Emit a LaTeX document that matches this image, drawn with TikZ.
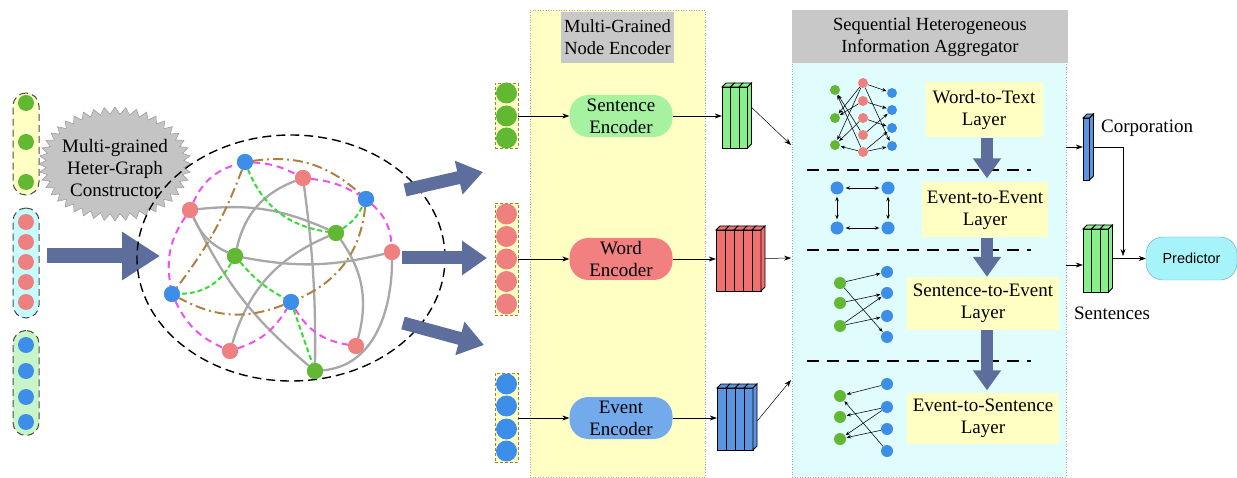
\documentclass[tikz,border=0pt]{standalone}
\usepackage{fontspec}
\setmainfont{Liberation Serif}
\setsansfont{Liberation Sans}
\usetikzlibrary{shapes.symbols,shapes.geometric,arrows.meta,calc}
\definecolor{gdot}{HTML}{62B832}
\definecolor{rdot}{HTML}{EE8080}
\definecolor{bdot}{HTML}{3D8EE8}
\definecolor{slate}{HTML}{5E6E9C}
\definecolor{mag}{HTML}{F050F0}
\definecolor{gdash}{HTML}{33DD33}
\definecolor{brn}{HTML}{B08040}
\definecolor{gedge}{HTML}{A8A8A8}
\definecolor{lyel}{HTML}{FFFFC4}
\definecolor{lcyan}{HTML}{C8FCFC}
\definecolor{lgrn}{HTML}{C8F5C8}
\definecolor{panelcyan}{HTML}{E0FCFC}
\definecolor{titlegray}{HTML}{C8C8C8}
\definecolor{starg}{HTML}{C4C4C4}
\definecolor{tgreen}{HTML}{88F088}
\definecolor{tred}{HTML}{F07070}
\definecolor{tblue}{HTML}{5B95E0}
\definecolor{encg}{HTML}{A6F2A0}
\definecolor{encr}{HTML}{F28080}
\definecolor{encb}{HTML}{72AAEB}
\definecolor{predc}{HTML}{A6F4FA}
\newcommand\tensorstack[7]{%
  % #1 name, #2 left x, #3 top y (px), #4 slices, #5 slice width, #6 height, #7 colour
  \foreach \i in {1,...,#4}{%
    \pgfmathsetmacro\xa{#2+(\i-1)*#5}%
    \pgfmathsetmacro\xb{#2+\i*#5}%
    \draw[fill=#7,line width=0.9pt] (\xa,-#3-4) rectangle (\xb,-#3-#6);
    \draw[fill=#7,line width=0.9pt] (\xa,-#3-4) -- (\xa+4,-#3) -- (\xb+4,-#3) -- (\xb,-#3-4) -- cycle;
  }%
  \pgfmathsetmacro\xe{#2+#4*#5}%
  \draw[fill=#7,line width=0.9pt] (\xe,-#3-4) -- (\xe+4,-#3) -- (\xe+4,-#3-#6+4) -- (\xe,-#3-#6) -- cycle;
  \node[minimum width={#4*#5+4}, minimum height=#6] (#1) at ({#2+(#4*#5+4)/2},{-#3-#6/2}) {};
}
\begin{document}
\begin{tikzpicture}[x=1pt,y=1pt,
  every node/.style={inner sep=0pt},
  dotg/.style={circle,fill=gdot,minimum size=#1}, dotg/.default=16pt,
  dotr/.style={circle,fill=rdot,minimum size=#1}, dotr/.default=16pt,
  dotb/.style={circle,fill=bdot,minimum size=#1}, dotb/.default=16pt,
  leftpill/.style={draw=gray!60!black, dash pattern=on 7pt off 4pt, line width=1pt, rounded corners=13pt, minimum width=26pt},
  incol/.style={draw=olive!60!gray, dash pattern=on 3pt off 2pt, line width=0.6pt, fill=lyel, minimum width=23pt},
  magedge/.style={mag, line width=2pt, dash pattern=on 7pt off 5pt},
  gredge/.style={gdash, line width=2pt, dash pattern=on 5pt off 3pt},
  bredge/.style={brn, line width=2pt, dash pattern=on 10pt off 4pt on 2pt off 4pt},
  gyedge/.style={gedge, line width=2.3pt},
  bigarrow/.style={slate, line width=13pt, -{Triangle[length=25pt,width=33pt]}},
  downarrow/.style={slate, line width=12pt, -{Triangle[length=20pt,width=27pt]}},
  conn/.style={-{Stealth[length=7pt,width=5pt]}, line width=0.7pt},
  tiny/.style={-{Stealth[length=4.5pt,width=3.5pt]}, line width=0.55pt, shorten >=0.5pt},
  tinyboth/.style={{Stealth[length=4.5pt,width=3.5pt]}-{Stealth[length=4.5pt,width=3.5pt]}, line width=0.7pt, shorten >=2pt, shorten <=2pt},
  txt/.style={font=\fontsize{19}{22}\selectfont, align=center},
  enc/.style={txt, rounded corners=19pt, minimum width=103pt, minimum height=42pt},
  layerbox/.style={font=\fontsize{19}{22}\selectfont, align=center, fill=lyel, minimum height=53pt},
  titlebox/.style={font=\fontsize{18.5}{22}\selectfont, align=center, fill=titlegray},
  sepline/.style={line width=1.6pt, dash pattern=on 12pt off 8pt}
]
\useasboundingbox (0,0) rectangle (1237,-478);

% ---------- left columns ----------
\node[leftpill, fill=lyel, minimum height=102pt] (lcg) at (26,-144) {};
\node[dotg] (lg1) at (26,-103) {};
\node[dotg] (lg2) at (26,-142) {};
\node[dotg] (lg3) at (26,-182) {};
\node[leftpill, fill=lcyan, minimum height=110pt] (lcr) at (26,-263) {};
\foreach \k/\yy in {1/222,2/242,3/262,4/282,5/302}{\node[dotr] (lr\k) at (26,-\yy) {};}
\node[leftpill, fill=lgrn, minimum height=105pt] (lcb) at (26,-383) {};
\foreach \k/\yy in {1/345,2/371,3/397,4/422}{\node[dotb] (lb\k) at (26,-\yy) {};}

\node[starburst, starburst points=44, starburst point height=7pt, random starburst=0,
      fill=starg, draw=gray!80, line width=0.5pt, minimum width=152pt, minimum height=114pt] (sb) at (115,-164) {};
\node[font=\fontsize{19}{22}\selectfont, align=center] (sbt) at (115,-168) {Multi-grained\\Heter-Graph\\Constructor};

\coordinate (ma1) at (47,-256);
\coordinate (ma2) at (160,-256);
\draw[slate, line width=15pt, -{Triangle[length=38pt,width=46pt]}] (ma1) -- (ma2);

% ---------- graph ----------
\node[ellipse, draw, line width=1.4pt, dash pattern=on 9pt off 5pt, minimum width=308pt, minimum height=246pt] (gr) at (291,-258) {};

\node[dotb] (B1) at (245,-162) {};
\node[dotr] (R1) at (303,-178) {};
\node[dotb] (B2) at (366,-199) {};
\node[dotr] (R2) at (190,-210) {};
\node[dotg] (G1) at (336,-233) {};
\node[dotg] (G2) at (235,-256) {};
\node[dotr] (R3) at (392,-252) {};
\node[dotb] (B3) at (172,-294) {};
\node[dotb] (B4) at (291,-302) {};
\node[dotr] (R4) at (230,-351) {};
\node[dotr] (R5) at (356,-346) {};
\node[dotg] (G3) at (315,-371) {};

% gray edges
\draw[gyedge] (R2) to[bend left=15] (G1);
\draw[gyedge] (R2) to[bend right=20] (G2);
\draw[gyedge] (R2) to[bend right=12] (G3);
\draw[gyedge] (R1) to[bend left=4] (G3);
\draw[gyedge] (G2) to[bend left=28] (R1);
\draw[gyedge] (G2) to[bend right=12] (R3);
\draw[gyedge] (G1) to[bend right=25] (R4);
\draw[gyedge] (G1) to[bend left=25] (R5);
\draw[gyedge] (R3) to[out=-90,in=5] (G3);
% magenta
\draw[magedge] (R2) to[bend left=25] (B1);
\draw[magedge] (B1) to[bend left=12] (R1);
\draw[magedge] (R1) to[bend left=12] (B2);
\draw[magedge] (B2) to[bend left=22] (R3);
\draw[magedge] (R2) to[bend right=22] (B3);
\draw[magedge] (B3) to[bend right=20] (R4);
\draw[magedge] (R4) to[bend right=20] (B4);
\draw[magedge] (B4) to[bend right=25] (R5);
% green dashed
\draw[gredge] (B1) to[bend right=30] (G1);
\draw[gredge] (G1) to[bend right=15] (B2);
\draw[gredge] (G2) to[bend left=30] (B3);
\draw[gredge] (G2) to[bend right=10] (B4);
\draw[gredge] (B4) -- (G3);
% brown dash-dot
\draw[bredge] (B1) to[bend left=25] (B2);
\draw[bredge] (B2) to[bend left=30] (B4);
\draw[bredge] (B4) to[bend left=25] (B3);
\draw[bredge] (B1) to[bend left=8] (B3);
% redraw graph nodes on top
\node[dotb] at (B1) {};
\node[dotr] at (R1) {};
\node[dotb] at (B2) {};
\node[dotr] at (R2) {};
\node[dotg] at (G1) {};
\node[dotg] at (G2) {};
\node[dotr] at (R3) {};
\node[dotb] at (B3) {};
\node[dotb] at (B4) {};
\node[dotr] at (R4) {};
\node[dotr] at (R5) {};
\node[dotg] at (G3) {};

% three arrows out of the graph
\coordinate (oa1) at (405,-190); \coordinate (ob1) at (483,-172);
\coordinate (oa2) at (402,-258); \coordinate (ob2) at (487,-258);
\coordinate (oa3) at (403,-323); \coordinate (ob3) at (484,-345);
\draw[bigarrow] (oa1) -- (ob1);
\draw[bigarrow] (oa2) -- (ob2);
\draw[bigarrow] (oa3) -- (ob3);

% ---------- node encoder panel ----------
\node[fill=lyel, draw=gray!70, dotted, line width=0.6pt, minimum width=175pt, minimum height=467pt] (encpanel) at (617.5,-243.5) {};
\node[titlebox, minimum width=113pt, minimum height=51pt] (enctitle) at (617.5,-37.5) {Multi-Grained\\Node Encoder};

\node[incol, minimum height=65pt] (mcg) at (506.5,-115.5) {};
\foreach \k/\yy in {1/93,2/116,3/138}{\node[dotg=21pt] (mg\k) at (506.5,-\yy) {};}
\node[incol, minimum height=112pt] (mcr) at (506.5,-259) {};
\foreach \k/\yy in {1/214,2/236.5,3/259,4/281.5,5/304}{\node[dotr=21pt] (mr\k) at (506.5,-\yy) {};}
\node[incol, minimum height=89pt] (mcb) at (506.5,-417.5) {};
\foreach \k/\yy in {1/384,2/406,3/429,4/451}{\node[dotb=21pt] (mb\k) at (506.5,-\yy) {};}

\node[enc, fill=encg] (senc) at (621,-116) {Sentence\\Encoder};
\node[enc, fill=encr] (wenc) at (621,-259) {Word\\Encoder};
\node[enc, fill=encb] (eenc) at (621,-418) {Event\\Encoder};

\draw[conn] (mcg.east |- senc.west) -- (senc.west);
\draw[conn] (mcr.east |- wenc.west) -- (wenc.west);
\draw[conn] (mcb.east |- eenc.west) -- (eenc.west);

\tensorstack{gt}{722}{83}{3}{8.5}{65}{tgreen}
\tensorstack{rt}{716}{226}{5}{9}{65}{tred}
\tensorstack{bt}{717}{384}{4}{9}{66}{tblue}

\draw[conn] (senc.east) -- (senc.east -| gt.west);
\draw[conn] (wenc.east) -- (wenc.east -| rt.west);
\draw[conn] (eenc.east) -- (eenc.east -| bt.west);

% ---------- aggregator panel ----------
\node[fill=panelcyan, draw=gray!70, dotted, line width=0.6pt, minimum width=274pt, minimum height=467pt] (aggpanel) at (929,-243.5) {};
\node[titlebox, minimum width=276pt, minimum height=53pt] (aggtitle) at (930,-37) {Sequential Heterogeneous\\Information Aggregator};

\coordinate (in1) at (791,-145);
\coordinate (in2) at (791,-258);
\coordinate (in3) at (791,-380);
\draw[conn, line width=0.5pt] (gt.east) ++(0,8) -- (in1);
\draw[conn, line width=0.5pt] (rt.east) -- (in2);
\draw[conn, line width=0.5pt] (bt.east) ++(0,-4) -- (in3);

% layer boxes
\node[layerbox, minimum width=117pt, minimum height=55pt] (w2t) at (984,-110) {Word-to-Text\\Layer};
\node[layerbox, minimum width=126pt, minimum height=55pt] (e2e) at (985,-210) {Event-to-Event\\Layer};
\node[layerbox, minimum width=152pt] (s2e) at (983,-303.5) {Sentence-to-Event\\Layer};
\node[layerbox, minimum width=152pt, minimum height=51pt] (e2s) at (983,-418) {Event-to-Sentence\\Layer};

% separators
\coordinate (d1a) at (807,-170); \coordinate (d1b) at (1031,-170);
\coordinate (d2a) at (807,-250); \coordinate (d2b) at (1031,-250);
\coordinate (d3a) at (807,-361); \coordinate (d3b) at (1031,-361);
\draw[sepline] (d1a) -- (d1b);
\draw[sepline] (d2a) -- (d2b);
\draw[sepline] (d3a) -- (d3b);

\draw[downarrow] (w2t.south -| 987,0) -- ($(e2e.north -| 987,0)+(0,4)$);
\draw[downarrow] (e2e.south -| 987,0) -- (s2e.north -| 987,0);
\draw[downarrow] (s2e.south -| 987,0) -- ($(e2s.north -| 987,0)+(0,2)$);

% icon 1: word-to-text
\foreach \k/\yy in {1/90,2/118,3/145}{\node[dotg=10pt] (ag\k) at (835,-\yy) {};}
\foreach \k/\yy in {1/83,2/101,3/118,4/135,5/152}{\node[dotr=10pt] (ar\k) at (863,-\yy) {};}
\foreach \k/\yy in {1/93,2/110,3/128,4/146}{\node[dotb=10pt] (ab\k) at (892,-\yy) {};}
\foreach \s/\t in {ar1/ab1,ar1/ab4,ar2/ab2,ar3/ab3,ar4/ab2,ar5/ab3,ar5/ab4,ar1/ag2,ar1/ag3,ar2/ag2,ar4/ag1,ar5/ag1,ar3/ag3,ar5/ag3}{\draw[tiny] (\s) -- (\t);}

% icon 2: event-to-event
\node[dotb=13pt] (ee1) at (837,-188) {};
\node[dotb=13pt] (ee2) at (888,-188) {};
\node[dotb=13pt] (ee3) at (837,-228) {};
\node[dotb=13pt] (ee4) at (888,-228) {};
\draw[tinyboth] (ee1) -- (ee2);
\draw[tinyboth] (ee3) -- (ee4);
\draw[tinyboth] (ee1) -- (ee3);
\draw[tinyboth] (ee2) -- (ee4);

% icon 3: sentence-to-event
\foreach \k/\yy in {1/283,2/303,3/326}{\node[dotg=12pt] (sg\k) at (840,-\yy) {};}
\foreach \k/\yy in {1/272,2/293,3/316,4/337}{\node[dotb=12pt] (sb\k) at (887,-\yy) {};}
\foreach \s/\t in {sg1/sb1,sg1/sb4,sg2/sb2,sg3/sb2,sg3/sb3}{\draw[tiny] (\s) -- (\t);}

% icon 4: event-to-sentence
\foreach \k/\yy in {1/396,2/417,3/439}{\node[dotg=12pt] (tg\k) at (840,-\yy) {};}
\foreach \k/\yy in {1/384,2/407,3/429,4/451}{\node[dotb=12pt] (tb\k) at (887,-\yy) {};}
\foreach \s/\t in {tb1/tg1,tb2/tg2,tb2/tg3,tb3/tg3,tb4/tg1}{\draw[tiny] (\s) -- (\t);}

% ---------- right side ----------
\tensorstack{ct}{1083}{114}{1}{6.5}{66}{tblue}
\tensorstack{st}{1083}{225}{3}{8.5}{67}{tgreen}
\node[font=\fontsize{19}{22}\selectfont, anchor=west] (corp) at (1101,-128) {Corporation};
\node[font=\fontsize{19}{22}\selectfont] (sents) at (1112,-313) {Sentences};

\node[fill=predc, draw=cyan!40!gray, line width=0.4pt, rounded corners=17pt, minimum width=91pt, minimum height=43pt, font=\sffamily\fontsize{14.5}{17}\selectfont] (pred) at (1191.5,-258.5) {Predictor};

\coordinate (rin1) at (1066,-147);
\coordinate (rin2) at (1066,-265);
\draw[conn, line width=0.5pt] (rin1) -- (rin1 -| ct.west);
\draw[conn, line width=0.5pt] (rin2) -- (rin2 -| st.west);
\coordinate (cbend) at (1123,-147);
\coordinate (cend) at (1123,-256);
\draw[conn, line width=0.5pt] (ct.east |- cbend) -- (cbend) -- (cend);
\draw[conn, line width=0.6pt] (st.east |- pred.west) -- (pred.west);
\end{tikzpicture}
\end{document}
